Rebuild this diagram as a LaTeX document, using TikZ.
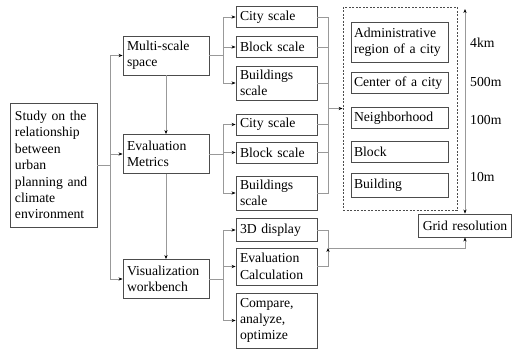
\documentclass[tikz,border=0pt]{standalone}
\usepackage{fontspec}
\setmainfont{Liberation Serif}
\usetikzlibrary{positioning}
\usetikzlibrary{arrows.meta}
\tikzset{
semithick,
>={Stealth[length=4pt,width=3.2pt,black]},
txt/.style={font=\fontsize{13.7}{16.4}\selectfont},
box/.style={txt,draw=black!70,line width=0.9pt,rectangle,align=left,inner xsep=4pt,inner ysep=0pt},
study box/.style={box,inner xsep=5pt,text width=77pt,minimum height=124pt},
mid box/.style={box,text width=78pt,minimum height=39pt},
side box/.style={box,text width=73pt,minimum height=21pt},
scale box/.style={box,inner xsep=3pt,text width=91pt,minimum height=21pt},
zone/.style={draw=black!70,line width=0.8pt,dash pattern=on 2pt off 1.5pt,minimum width=114pt,minimum height=203pt},
link/.style={draw=black!40,line width=0.9pt},
vh/.style={to path={|- (\tikztotarget)}},
hv/.style={to path={-| (\tikztotarget)}},
lab/.style={txt,anchor=west,inner sep=0pt}
}
\begin{document}
\begin{tikzpicture}[x=1pt,y=-1pt]
\useasboundingbox (0,0) rectangle (512,351);
% left and middle columns
\node[study box] (st) at (53.5,165) {Study on the\\relationship\\between\\urban\\planning and\\climate\\environment};
\node[mid box] (ms) at (166,55.5) {Multi-scale\\space};
\node[mid box] (em) at (166,154) {Evaluation\\Metrics};
\node[mid box] (vw) at (166,279) {Visualization\\workbench};
\node[side box] (c1) at (276.5,17) {City scale};
\node[side box] (b1) at (276.5,47) {Block scale};
\node[side box,minimum height=34pt] (u1) at (276.5,83) {Buildings\\scale};
\node[side box] (c2) at (276.5,124.5) {City scale};
\node[side box] (b2) at (276.5,152.5) {Block scale};
\node[side box,minimum height=34pt] (u2) at (276.5,193) {Buildings\\scale};
\node[side box,minimum height=23pt] (d3) at (276.5,230) {3D display};
\node[side box,minimum height=37pt] (ec) at (276.5,266.5) {Evaluation\\Calculation};
\node[side box,minimum height=55pt] (ca) at (276.5,320.5) {Compare,\\analyze,\\optimize};
% scales
\node[zone] (dz) at (400,108.5) {};
\node[scale box,minimum height=40pt] (ar) at (399.5,42) {Administrative\\region of a city};
\node[scale box] (cc) at (399.5,83) {Center of a city};
\node[scale box] (nb) at (399.5,118) {Neighborhood};
\node[scale box] (bk) at (399.5,152) {Block};
\node[scale box,minimum height=24pt] (bd) at (399.5,185.5) {Building};
\node[box,align=center,inner xsep=2pt,text width=89pt,minimum height=23pt] (gr) at (465,225.5) {Grid resolution};
\node[lab] (l1) at (470,43) {4km};
\node[lab] (l2) at (470,82) {500m};
\node[lab] (l3) at (470,120) {100m};
\node[lab] (l4) at (470,177) {10m};
% junctions
\coordinate[right=13pt of st.east] (j0);
\coordinate[right=14pt of ms.east] (j1);
\coordinate[right=14pt of em.east] (j2);
\coordinate[right=14pt of vw.east] (j3);
\coordinate (k1) at (328,108.5);
\coordinate (k2) at (328,248);
\coordinate (top) at (465,9);
\path[link]
  (st.east) edge (j0)
  (ms.east) edge (j1)
  (em.east) edge (j2)
  (vw.east) edge (j3)
  (c1.east) edge[hv] (k1) (b1.east) edge[hv] (k1) (u1.east) edge[hv] (k1)
  (c2.east) edge[hv] (k1) (b2.east) edge[hv] (k1) (u2.east) edge[hv] (k1)
  (d3.east) edge[hv] (k2) (ec.east) edge[hv] (k2);
\path[link,->]
  (j0) edge[vh] (ms.west) edge[vh] (em.west) edge[vh] (vw.west)
  (j1) edge[vh] (c1.west) edge[vh] (b1.west) edge[vh] (u1.west)
  (j2) edge[vh] (c2.west) edge[vh] (b2.west) edge[vh] (u2.west)
  (j3) edge[vh] (d3.west) edge[vh] (ec.west) edge[vh] (ca.west)
  (ms) edge (em)
  (em) edge (vw)
  (k1) edge (dz.west)
  (k2) edge[hv] (gr.south);
\draw[link,<->] (top) -- (gr.north);
\end{tikzpicture}
\end{document}
